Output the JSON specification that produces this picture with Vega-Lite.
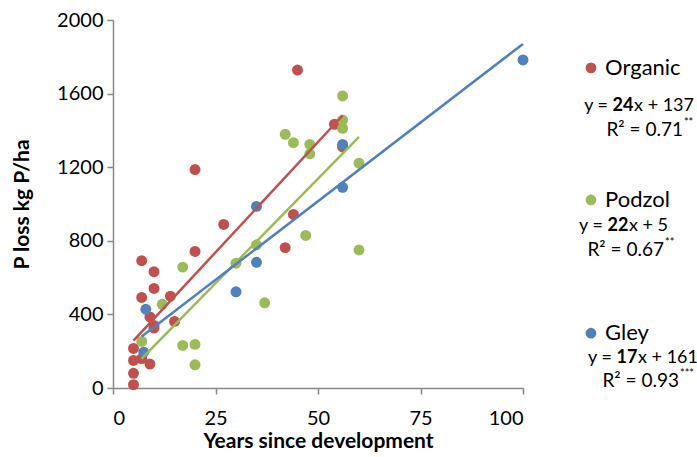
{
  "$schema": "https://vega.github.io/schema/vega-lite/v6.json",
  "padding": {"left": 11, "top": 10, "right": 5, "bottom": 3},
  "background": "white",
  "config": {
    "font": "Lato",
    "view": {"stroke": null},
    "concat": {"spacing": 10},
    "axis": {
      "grid": false,
      "domainColor": "#878787",
      "domainWidth": 1.5,
      "tickColor": "#878787",
      "tickWidth": 1.5,
      "tickSize": 6,
      "labelColor": "#000000",
      "labelFontSize": 20,
      "titleColor": "#000000",
      "titleFontSize": 21,
      "titleFontWeight": "bold",
      "labelFont": "Lato",
      "titleFont": "Lato"
    }
  },
  "datasets": {
    "points": [
      {"soil": "Organic", "years": 5, "ploss": 18},
      {"soil": "Organic", "years": 5, "ploss": 80},
      {"soil": "Organic", "years": 5, "ploss": 150},
      {"soil": "Organic", "years": 5, "ploss": 215},
      {"soil": "Organic", "years": 7, "ploss": 160},
      {"soil": "Organic", "years": 9, "ploss": 130},
      {"soil": "Organic", "years": 7, "ploss": 692},
      {"soil": "Organic", "years": 7, "ploss": 492},
      {"soil": "Organic", "years": 9, "ploss": 386},
      {"soil": "Organic", "years": 10, "ploss": 632},
      {"soil": "Organic", "years": 10, "ploss": 541},
      {"soil": "Organic", "years": 10, "ploss": 340},
      {"soil": "Organic", "years": 10, "ploss": 326},
      {"soil": "Organic", "years": 14, "ploss": 499},
      {"soil": "Organic", "years": 15, "ploss": 362},
      {"soil": "Organic", "years": 20, "ploss": 1187},
      {"soil": "Organic", "years": 20, "ploss": 742},
      {"soil": "Organic", "years": 27, "ploss": 889},
      {"soil": "Organic", "years": 42, "ploss": 763},
      {"soil": "Organic", "years": 44, "ploss": 943},
      {"soil": "Organic", "years": 45, "ploss": 1728},
      {"soil": "Organic", "years": 54, "ploss": 1433},
      {"soil": "Organic", "years": 56, "ploss": 1310},
      {"soil": "Podzol", "years": 7, "ploss": 253},
      {"soil": "Podzol", "years": 12, "ploss": 455},
      {"soil": "Podzol", "years": 17, "ploss": 657},
      {"soil": "Podzol", "years": 17, "ploss": 231},
      {"soil": "Podzol", "years": 20, "ploss": 237},
      {"soil": "Podzol", "years": 20, "ploss": 126},
      {"soil": "Podzol", "years": 30, "ploss": 678},
      {"soil": "Podzol", "years": 35, "ploss": 778},
      {"soil": "Podzol", "years": 37, "ploss": 463},
      {"soil": "Podzol", "years": 42, "ploss": 1379},
      {"soil": "Podzol", "years": 44, "ploss": 1333},
      {"soil": "Podzol", "years": 48, "ploss": 1324},
      {"soil": "Podzol", "years": 48, "ploss": 1273},
      {"soil": "Podzol", "years": 47, "ploss": 829},
      {"soil": "Podzol", "years": 56, "ploss": 1587},
      {"soil": "Podzol", "years": 56, "ploss": 1456},
      {"soil": "Podzol", "years": 56, "ploss": 1411},
      {"soil": "Podzol", "years": 60, "ploss": 1222},
      {"soil": "Podzol", "years": 60, "ploss": 750},
      {"soil": "Gley", "years": 7.5, "ploss": 195},
      {"soil": "Gley", "years": 8, "ploss": 428},
      {"soil": "Gley", "years": 30, "ploss": 523},
      {"soil": "Gley", "years": 35, "ploss": 987},
      {"soil": "Gley", "years": 35, "ploss": 683},
      {"soil": "Gley", "years": 56, "ploss": 1324},
      {"soil": "Gley", "years": 56, "ploss": 1091},
      {"soil": "Gley", "years": 100, "ploss": 1783}
    ],
    "trend": [
      {"soil": "Organic", "years": 5, "ploss": 257},
      {"soil": "Organic", "years": 56, "ploss": 1481},
      {"soil": "Podzol", "years": 7, "ploss": 160},
      {"soil": "Podzol", "years": 60, "ploss": 1365},
      {"soil": "Gley", "years": 7, "ploss": 280},
      {"soil": "Gley", "years": 100, "ploss": 1870}
    ],
    "legend": [
      {"soil": "Organic", "name": "Organic", "row": 13, "eqrow": 23.4, "r2row": 29.9, "pre": "y =", "num": "24", "post": "x + 137", "r2": "R² = 0.71", "sig": "**", "numx": 53.2, "r2x": 91.1},
      {"soil": "Podzol", "name": "Podzol", "row": 48.9, "eqrow": 56, "r2row": 62.5, "pre": "y =", "num": "22", "post": "x + 5", "r2": "R² = 0.67", "sig": "**", "numx": 50, "r2x": 79.1},
      {"soil": "Gley", "name": "Gley", "row": 85.1, "eqrow": 91.8, "r2row": 98.1, "pre": "y =", "num": "17", "post": "x + 161", "r2": "R² = 0.93", "sig": "***", "numx": 55.7, "r2x": 88.6}
    ]
  },
  "hconcat": [
    {
      "width": 410,
      "height": 368,
      "layer": [
        {
          "data": {"name": "points"},
          "mark": {"type": "circle", "size": 120, "opacity": 1},
          "encoding": {
            "x": {"field": "years", "type": "quantitative", "scale": {"domain": [0, 100], "nice": false}, "axis": {"values": [0, 25, 50, 75, 100], "format": "d", "title": "Years since development", "labelPadding": 14, "titlePadding": 2}},
            "y": {"field": "ploss", "type": "quantitative", "scale": {"domain": [0, 2000], "nice": false}, "axis": {"values": [0, 400, 800, 1200, 1600, 2000], "format": "d", "title": "P loss kg P/ha", "labelPadding": 4, "titlePadding": 24}},
            "color": {"field": "soil", "type": "nominal", "scale": {"domain": ["Organic", "Podzol", "Gley"], "range": ["#C0504D", "#9BBB59", "#4F81BD"]}, "legend": null}
          }
        },
        {
          "data": {"name": "trend"},
          "mark": {"type": "line", "strokeWidth": 2.5},
          "encoding": {
            "x": {"field": "years", "type": "quantitative"},
            "y": {"field": "ploss", "type": "quantitative"},
            "color": {"field": "soil", "type": "nominal", "scale": {"domain": ["Organic", "Podzol", "Gley"], "range": ["#C0504D", "#9BBB59", "#4F81BD"]}, "legend": null},
            "detail": {"field": "soil"}
          }
        }
      ]
    },
    {
      "width": 158,
      "height": 368,
      "data": {"name": "legend"},
      "encoding": {
        "color": {"field": "soil", "type": "nominal", "scale": {"domain": ["Organic", "Podzol", "Gley"], "range": ["#C0504D", "#9BBB59", "#4F81BD"]}, "legend": null}
      },
      "layer": [
        {
          "mark": {"type": "circle", "size": 115, "opacity": 1},
          "encoding": {
            "x": {"datum": 32.9, "type": "quantitative", "scale": {"domain": [0, 100]}, "axis": null},
            "y": {"field": "row", "type": "quantitative", "scale": {"domain": [0, 100], "reverse": true}, "axis": null}
          }
        },
        {
          "mark": {"type": "text", "align": "left", "baseline": "middle", "fontSize": 22},
          "encoding": {
            "x": {"datum": 41.8, "type": "quantitative"},
            "y": {"field": "row", "type": "quantitative"},
            "text": {"field": "name"},
            "color": {"value": "#000000"}
          }
        },
        {
          "mark": {"type": "text", "align": "right", "baseline": "middle", "fontSize": 18, "dx": -15},
          "encoding": {
            "x": {"field": "numx", "type": "quantitative"},
            "y": {"field": "eqrow", "type": "quantitative"},
            "text": {"field": "pre"},
            "color": {"value": "#000000"}
          }
        },
        {
          "mark": {"type": "text", "align": "center", "baseline": "middle", "fontSize": 18, "fontWeight": "bold"},
          "encoding": {
            "x": {"field": "numx", "type": "quantitative"},
            "y": {"field": "eqrow", "type": "quantitative"},
            "text": {"field": "num"},
            "color": {"value": "#000000"}
          }
        },
        {
          "mark": {"type": "text", "align": "left", "baseline": "middle", "fontSize": 18, "dx": 11},
          "encoding": {
            "x": {"field": "numx", "type": "quantitative"},
            "y": {"field": "eqrow", "type": "quantitative"},
            "text": {"field": "post"},
            "color": {"value": "#000000"}
          }
        },
        {
          "mark": {"type": "text", "align": "right", "baseline": "middle", "fontSize": 19},
          "encoding": {
            "x": {"field": "r2x", "type": "quantitative"},
            "y": {"field": "r2row", "type": "quantitative"},
            "text": {"field": "r2"},
            "color": {"value": "#000000"}
          }
        },
        {
          "mark": {"type": "text", "align": "left", "baseline": "middle", "fontSize": 11, "dx": 1, "dy": -7},
          "encoding": {
            "x": {"field": "r2x", "type": "quantitative"},
            "y": {"field": "r2row", "type": "quantitative"},
            "text": {"field": "sig"},
            "color": {"value": "#000000"}
          }
        }
      ]
    }
  ]
}
